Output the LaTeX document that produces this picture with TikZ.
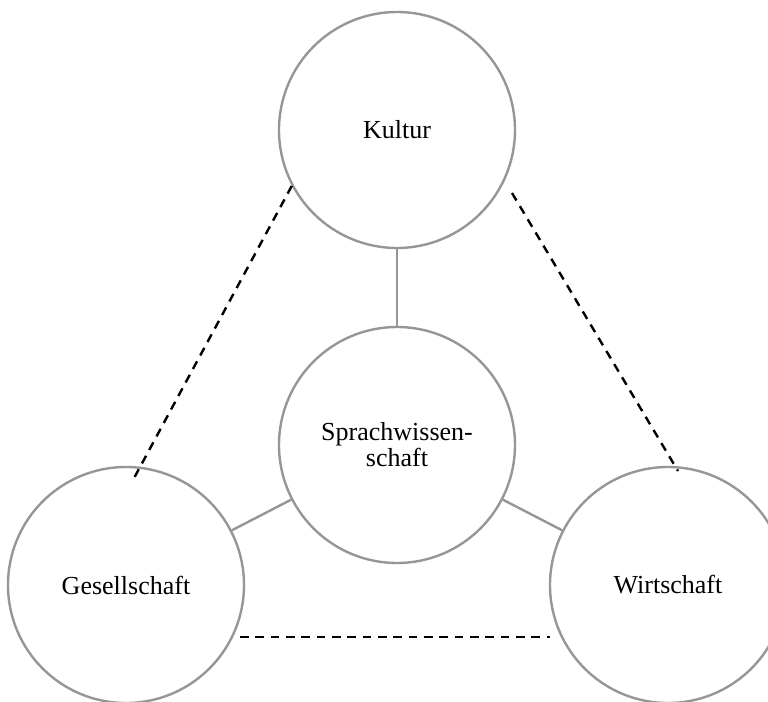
\documentclass[tikz,border=0pt]{standalone}
\usepackage{fontspec}
\setmainfont{Liberation Serif}
\usetikzlibrary{positioning}
\definecolor{ringgray}{RGB}{150,150,150}

\begin{document}
\begin{tikzpicture}[
  x=0.75pt,y=-0.75pt,
  field/.style={circle,draw=ringgray,line width=1.8pt,minimum size=177pt,inner sep=0pt,
    align=center,font=\fontsize{19.5}{19.5}\selectfont},
  link/.style={ringgray,line width=1.8pt},
  loose/.style={line width=1.8pt,dash pattern=on 6.5pt off 5pt}
]
\useasboundingbox (0,0) rectangle (768,702);
\node[field] (sprach) at (397,445) {Sprachwissen-\\schaft};
\node[field] (kultur) at (397,130) {Kultur};
\node[field] (ges) at (126,585) {Gesellschaft};
\node[field] (wirt) at (668,585) {Wirtschaft};
\coordinate (gesTop) at (133,480);
\coordinate (kulRight) at (512,193);
\coordinate (wirTop) at (678,471);
\coordinate (gesRight) at (240,637);
\coordinate (wirLeft) at (550,637);
\draw[link] (kultur) -- (sprach);
\draw[link] (sprach) -- (ges);
\draw[link] (sprach) -- (wirt);
\draw[loose] (kultur.208) -- (gesTop);
\draw[loose] (kulRight) -- (wirTop);
\draw[loose] (gesRight) -- (wirLeft);
\end{tikzpicture}
\end{document}
